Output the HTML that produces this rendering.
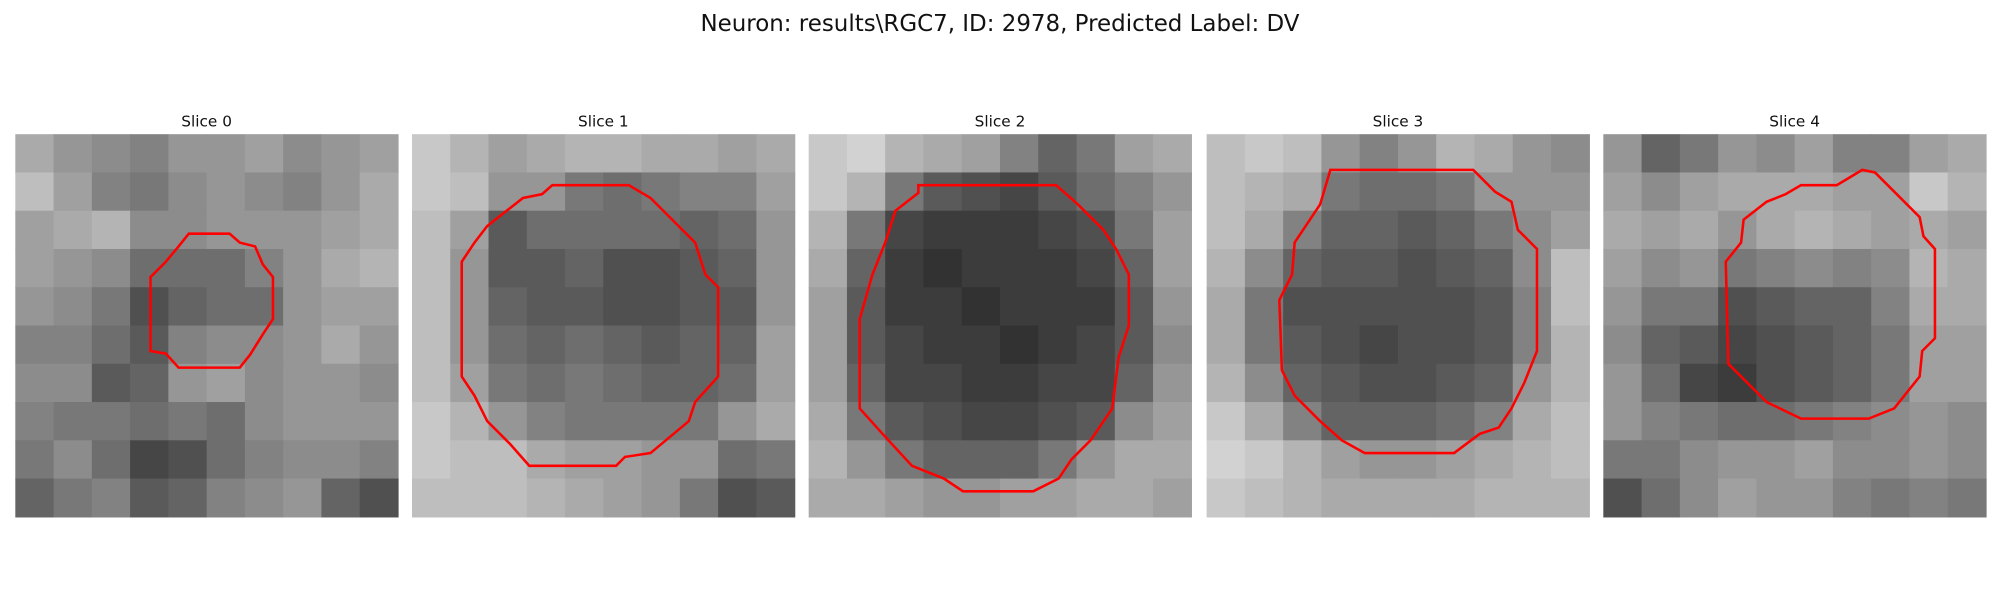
<!DOCTYPE html>
<html><head><meta charset="utf-8"><style>
html,body{margin:0;padding:0;background:#fff;width:2000px;height:600px;overflow:hidden}
svg{display:block}
</style></head><body>
<svg id="fig" width="2000" height="600" viewBox="0 0 1568 470" xmlns="http://www.w3.org/2000/svg" style="font-family:'DejaVu Sans','Liberation Sans',sans-serif">
<text x="784" y="24" text-anchor="middle" font-size="18" fill="#111">Neuron: results\RGC7, ID: 2978, Predicted Label: DV</text>
</svg>
<script>
// Coarse brightness estimates (10x10 per slice, 0-255)
const slice0 = [
[170,150,140,130,150,150,160,140,150,160],
[190,160,130,120,140,150,140,130,150,170],
[160,170,180,140,140,150,150,150,160,170],
[160,150,140,110,110,110,130,150,170,180],
[150,140,120,80,100,110,110,150,160,160],
[130,130,110,90,130,140,140,150,170,150],
[140,140,90,100,150,160,140,150,150,140],
[130,120,120,110,120,110,140,150,150,150],
[120,140,110,70,80,110,130,140,140,130],
[100,120,130,90,100,130,140,150,100,80]];
const slice1 = [
[200,180,160,170,180,180,170,170,160,170],
[200,190,150,150,120,110,120,130,130,160],
[190,160,90,110,110,110,110,100,110,150],
[190,150,90,90,100,80,80,90,100,150],
[190,150,100,90,90,80,80,90,90,150],
[190,150,110,100,110,100,90,100,100,160],
[190,160,120,110,120,110,100,100,110,160],
[200,180,150,130,120,120,120,120,150,170],
[200,190,190,170,160,160,150,150,110,120],
[190,190,190,180,170,160,150,120,80,90]];
const slice2 = [
[200,210,180,170,160,130,100,120,160,170],
[200,180,120,90,80,70,90,110,130,150],
[180,120,70,60,60,60,70,80,120,160],
[170,100,60,50,60,60,60,70,100,160],
[160,90,60,60,50,60,60,60,90,150],
[160,90,70,60,60,50,60,70,90,140],
[160,100,70,70,60,60,70,70,100,150],
[170,120,90,80,70,70,80,90,140,160],
[180,150,120,100,100,100,120,150,170,170],
[170,170,160,150,150,160,160,170,170,160]];
const slice3 = [
[190,200,190,150,130,150,180,170,150,140],
[190,180,170,120,110,110,120,150,150,150],
[190,170,130,100,100,90,100,120,140,160],
[180,140,100,90,90,80,90,100,140,190],
[170,120,80,80,80,80,80,90,130,190],
[170,120,90,80,70,80,80,90,130,180],
[180,140,100,90,80,80,90,100,150,180],
[200,170,130,100,100,100,110,130,170,190],
[210,200,180,160,150,150,160,170,180,190],
[200,190,180,170,170,170,170,180,180,180]];
const slice4 = [
[150,100,120,150,140,160,130,130,160,170],
[160,140,160,170,170,170,160,160,200,180],
[170,160,170,150,170,180,170,160,170,160],
[160,140,150,120,130,140,130,140,180,170],
[150,120,120,80,90,100,100,130,170,170],
[140,100,90,70,80,90,100,120,160,160],
[150,110,70,60,80,90,100,120,160,160],
[150,130,120,110,110,120,130,140,150,140],
[120,120,140,150,150,160,140,140,150,140],
[80,110,140,160,150,150,130,120,130,120]];
const slices = [slice0, slice1, slice2, slice3, slice4];
const sliceLabels = ["Slice 0","Slice 1","Slice 2","Slice 3","Slice 4"];
// Contours in image-pixel units (0-30)
const contour0 = [[13.6,7.8],[16.8,7.8],[17.6,8.5],[18.8,8.8],[19.4,10.2],[20.2,11.2],[20.2,14.5],[19.4,15.7],[18.4,17.3],[17.6,18.3],[12.8,18.3],[11.8,17.2],[10.6,17],[10.6,11.2],[11.8,10],[12.8,8.8]];
const contour1 = [[11,4],[17,4],[18.7,5],[20.2,6.5],[22.2,8.5],[23,11],[24,12],[24,19],[22.2,21],[21.7,22.5],[18.7,25],[16.7,25.3],[16,26],[9.2,26],[7.7,24.3],[5.9,22.5],[4.9,20.5],[3.9,19],[3.9,10],[4.9,8.5],[5.9,7.2],[8.7,5],[10.2,4.7]];
const contour2 = [[8.6,4],[19.4,4],[21.1,5.5],[23.1,7.5],[24.1,9],[25.1,11],[25.1,15],[24.3,17.5],[23.8,21.5],[22.1,24],[20.6,25.5],[19.6,27],[17.6,28],[12.1,28],[10.6,27],[8.1,26],[5.8,23.5],[4,21.5],[4,14.5],[5,11],[6,8.5],[6.8,6],[8.6,4.6]];
const contour3 = [[9.7,2.8],[20.9,2.8],[22.6,4.5],[23.9,5.3],[24.4,7.5],[25.9,9],[25.9,17],[24.9,19.5],[23.9,21.5],[22.9,23],[21.4,23.5],[19.4,25],[12.4,25],[10.6,24],[8.9,22.5],[6.9,20.5],[5.9,18.5],[5.7,13],[6.7,11],[6.9,8.5],[7.9,7],[8.9,5.5]];
const contour4 = [[15.5,4],[18.3,4],[20.3,2.8],[21.3,3],[22.8,4.5],[24.8,6.5],[25.1,8],[26,9],[26,16],[25,17],[24.8,19],[22.8,21.5],[20.8,22.3],[15.5,22.3],[12.8,21],[11.3,19.5],[9.8,18],[9.6,10],[10.8,8.5],[11,6.7],[12.8,5.3],[14.3,4.7]];
const contours = [contour0, contour1, contour2, contour3, contour4];

const NS = "http://www.w3.org/2000/svg";
const svg = document.getElementById("fig");
const panelLeft = [12, 323, 634, 946, 1257];
const panelTop = 105, panelSize = 300, gridN = 30;
const sx = (i, v) => panelLeft[i] + v * panelSize / gridN;
const sy = v => panelTop + v * panelSize / gridN;

slices.forEach((data, i) => {
  const g = document.createElementNS(NS, "g");
  
  
  svg.appendChild(g);
  const t = document.createElementNS(NS, "text");
  
  
  t.setAttribute("x", panelLeft[i] + panelSize / 2);
  t.setAttribute("y", 99);
  t.setAttribute("text-anchor", "middle");
  t.setAttribute("font-size", "12");
  t.setAttribute("fill", "#111");
  t.textContent = sliceLabels[i];
  g.appendChild(t);
  const n = data.length, cell = gridN / n;
  data.forEach((row, r) => row.forEach((v, c) => {
    const rc = document.createElementNS(NS, "rect");
    
    
    rc.setAttribute("x", sx(i, c * cell));
    rc.setAttribute("y", sy(r * cell));
    rc.setAttribute("width", sx(i, (c + 1) * cell) - sx(i, c * cell) + 0.5);
    rc.setAttribute("height", sy((r + 1) * cell) - sy(r * cell) + 0.5);
    rc.setAttribute("fill", `rgb(${v},${v},${v})`);
    g.appendChild(rc);
  }));
  const p = document.createElementNS(NS, "polygon");
  
  
  p.setAttribute("points", contours[i].map(q => sx(i, q[0]) + "," + sy(q[1])).join(" "));
  p.setAttribute("fill", "none");
  p.setAttribute("stroke", "#ff0000");
  p.setAttribute("stroke-width", "2");
  g.appendChild(p);
});
</script>
</body></html>
